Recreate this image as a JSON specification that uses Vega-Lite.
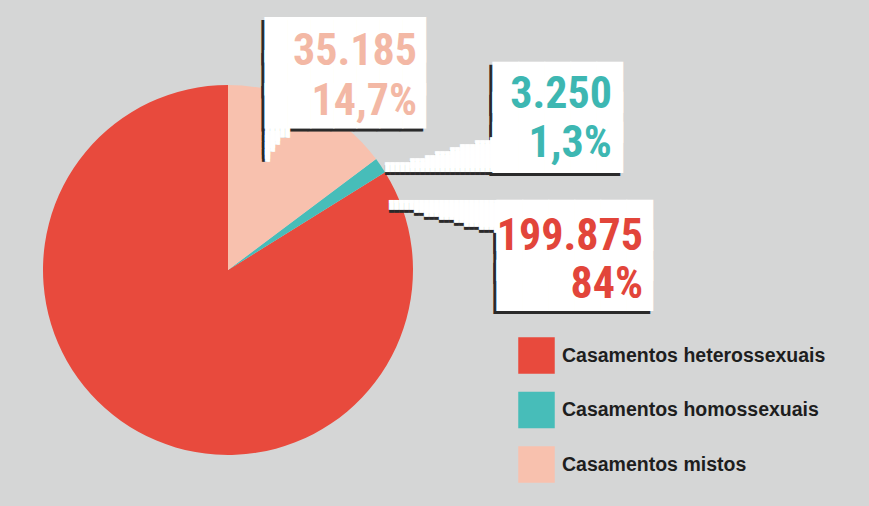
{
  "$schema": "https://vega.github.io/schema/vega-lite/v6.json",
  "width": 370,
  "height": 370,
  "autosize": {"type": "none"},
  "padding": {"left": 43, "top": 85, "right": 456, "bottom": 51},
  "background": "#d5d6d6",
  "config": {"view": {"stroke": null}},
  "data": {
    "values": [
      {"category": "Casamentos heterossexuais", "value": 199875, "numero": "199.875", "pct": "84%"},
      {"category": "Casamentos homossexuais", "value": 3250, "numero": "3.250", "pct": "1,3%"},
      {"category": "Casamentos mistos", "value": 35185, "numero": "35.185", "pct": "14,7%"}
    ]
  },
  "transform": [
    {"stack": "value", "groupby": [], "sort": [{"field": "category", "order": "descending"}], "as": ["v0", "v1"]}
  ],
  "layer": [
    {
      "mark": {"type": "arc", "strokeWidth": 0},
      "encoding": {
        "theta": {"field": "v1", "type": "quantitative", "stack": null, "scale": {"nice": false, "zero": true}},
        "theta2": {"field": "v0"},
        "color": {
          "field": "category", "type": "nominal",
          "scale": {"domain": ["Casamentos heterossexuais", "Casamentos homossexuais", "Casamentos mistos"], "range": ["#e84a3d", "#47bdb9", "#f8c1ae"]},
          "legend": {
            "title": null, "orient": "none", "legendX": 475, "legendY": 252,
            "padding": 0, "symbolType": "square", "symbolSize": 1332, "symbolStrokeWidth": 0,
            "symbolOpacity": 1, "rowPadding": 17.5, "labelOffset": 7,
            "labelFont": "Liberation Sans", "labelFontWeight": "bold", "labelFontSize": 19.5, "labelColor": "#1e1e1e", "labelLimit": 400
          }
        }
      }
    },
    {
      "transform": [{"filter": "datum.category === 'Casamentos mistos'"}],
      "mark": {"type": "text", "radius": 185, "font": "DejaVu Sans Mono", "fontSize": 38.203, "lineHeight": 32.77, "align": "left", "baseline": "alphabetic", "dx": 34, "dy": -28.55, "color": "#2a2a2a"},
      "encoding": {"theta": {"field": "v0", "type": "quantitative"}, "text": {"value": ["███████", "███████", "███████"]}}
    },
    {
      "transform": [{"filter": "datum.category === 'Casamentos mistos'"}],
      "mark": {"type": "text", "radius": 185, "font": "DejaVu Sans Mono", "fontSize": 8.305, "lineHeight": 3.476, "angle": 180, "align": "right", "baseline": "alphabetic", "dx": -34, "dy": -69.29, "color": "#2a2a2a"},
      "encoding": {"theta": {"field": "v0", "type": "quantitative"}, "text": {"value": ["█", "█", "█", "██", "██", "███", "███", "█████"]}}
    },
    {
      "transform": [{"filter": "datum.category === 'Casamentos homossexuais'"}],
      "mark": {"type": "text", "radius": 185, "font": "DejaVu Sans Mono", "fontSize": 43.186, "lineHeight": 29.87, "align": "left", "baseline": "alphabetic", "dx": 113.9, "dy": -54.06, "color": "#2a2a2a"},
      "encoding": {"theta": {"field": "v0", "type": "quantitative"}, "text": {"value": ["█████", "█████", "█████"]}}
    },
    {
      "transform": [{"filter": "datum.category === 'Casamentos homossexuais'"}],
      "mark": {"type": "text", "radius": 185, "font": "DejaVu Sans Mono", "fontSize": 8.305, "lineHeight": 3.619, "align": "right", "baseline": "alphabetic", "dx": 118.9, "dy": -11.43, "color": "#2a2a2a"},
      "encoding": {"theta": {"field": "v0", "type": "quantitative"}, "text": {"value": ["█", "████", "███████", "█████████", "████████████", "██████████████", "█████████████████", "██████████████████████"]}}
    },
    {
      "transform": [{"filter": "datum.category === 'Casamentos heterossexuais'"}],
      "mark": {"type": "text", "radius": 185, "font": "DejaVu Sans Mono", "fontSize": 43.186, "lineHeight": 29.87, "align": "left", "baseline": "alphabetic", "dx": 109, "dy": 70.92, "color": "#2a2a2a"},
      "encoding": {"theta": {"field": "v0", "type": "quantitative"}, "text": {"value": ["██████", "██████", "██████"]}}
    },
    {
      "transform": [{"filter": "datum.category === 'Casamentos heterossexuais'"}],
      "mark": {"type": "text", "radius": 185, "font": "DejaVu Sans Mono", "fontSize": 8.305, "lineHeight": 3.333, "angle": 180, "align": "left", "baseline": "alphabetic", "dx": -114, "dy": -56.13, "color": "#2a2a2a"},
      "encoding": {"theta": {"field": "v0", "type": "quantitative"}, "text": {"value": ["█", "████", "███████", "█████████", "████████████", "███████████████", "█████████████████", "██████████████████████"]}}
    },
    {
      "transform": [{"filter": "datum.category === 'Casamentos mistos'"}],
      "mark": {"type": "text", "radius": 185, "font": "DejaVu Sans Mono", "fontSize": 38.203, "lineHeight": 32.77, "align": "left", "baseline": "alphabetic", "dx": 37, "dy": -31.55, "color": "#ffffff"},
      "encoding": {"theta": {"field": "v0", "type": "quantitative"}, "text": {"value": ["███████", "███████", "███████"]}}
    },
    {
      "transform": [{"filter": "datum.category === 'Casamentos mistos'"}],
      "mark": {"type": "text", "radius": 185, "font": "DejaVu Sans Mono", "fontSize": 8.305, "lineHeight": 3.476, "angle": 180, "align": "right", "baseline": "alphabetic", "dx": -37, "dy": -69.29, "color": "#ffffff"},
      "encoding": {"theta": {"field": "v0", "type": "quantitative"}, "text": {"value": ["█", "█", "█", "██", "██", "███", "███", "█████"]}}
    },
    {
      "transform": [{"filter": "datum.category === 'Casamentos homossexuais'"}],
      "mark": {"type": "text", "radius": 185, "font": "DejaVu Sans Mono", "fontSize": 43.186, "lineHeight": 29.87, "align": "left", "baseline": "alphabetic", "dx": 116.9, "dy": -57.06, "color": "#ffffff"},
      "encoding": {"theta": {"field": "v0", "type": "quantitative"}, "text": {"value": ["█████", "█████", "█████"]}}
    },
    {
      "transform": [{"filter": "datum.category === 'Casamentos homossexuais'"}],
      "mark": {"type": "text", "radius": 185, "font": "DejaVu Sans Mono", "fontSize": 8.305, "lineHeight": 3.619, "align": "right", "baseline": "alphabetic", "dx": 118.9, "dy": -14.43, "color": "#ffffff"},
      "encoding": {"theta": {"field": "v0", "type": "quantitative"}, "text": {"value": ["█", "████", "███████", "█████████", "████████████", "██████████████", "█████████████████", "██████████████████████"]}}
    },
    {
      "transform": [{"filter": "datum.category === 'Casamentos heterossexuais'"}],
      "mark": {"type": "text", "radius": 185, "font": "DejaVu Sans Mono", "fontSize": 43.186, "lineHeight": 29.87, "align": "left", "baseline": "alphabetic", "dx": 112, "dy": 67.92, "color": "#ffffff"},
      "encoding": {"theta": {"field": "v0", "type": "quantitative"}, "text": {"value": ["██████", "██████", "██████"]}}
    },
    {
      "transform": [{"filter": "datum.category === 'Casamentos heterossexuais'"}],
      "mark": {"type": "text", "radius": 185, "font": "DejaVu Sans Mono", "fontSize": 8.305, "lineHeight": 3.333, "angle": 180, "align": "left", "baseline": "alphabetic", "dx": -114, "dy": -53.13, "color": "#ffffff"},
      "encoding": {"theta": {"field": "v0", "type": "quantitative"}, "text": {"value": ["█", "████", "███████", "█████████", "████████████", "███████████████", "█████████████████", "██████████████████████"]}}
    },
    {
      "transform": [{"filter": "datum.category === 'Casamentos mistos'"}],
      "mark": {"type": "text", "radius": 185, "font": "Roboto Condensed, DejaVu Sans Condensed, Roboto", "fontWeight": "bold", "fontSize": 44, "align": "right", "baseline": "alphabetic", "dx": 189, "dy": -20, "color": "#f3b8a5"},
      "encoding": {"theta": {"field": "v0", "type": "quantitative"}, "text": {"field": "numero"}}
    },
    {
      "transform": [{"filter": "datum.category === 'Casamentos mistos'"}],
      "mark": {"type": "text", "radius": 185, "font": "Roboto Condensed, DejaVu Sans Condensed, Roboto", "fontWeight": "bold", "fontSize": 44, "align": "right", "baseline": "alphabetic", "dx": 189, "dy": 30, "color": "#f3b8a5"},
      "encoding": {"theta": {"field": "v0", "type": "quantitative"}, "text": {"field": "pct"}}
    },
    {
      "transform": [{"filter": "datum.category === 'Casamentos homossexuais'"}],
      "mark": {"type": "text", "radius": 185, "font": "Roboto Condensed, DejaVu Sans Condensed, Roboto", "fontWeight": "bold", "fontSize": 44, "align": "right", "baseline": "alphabetic", "dx": 235.9, "dy": -51.1, "color": "#3db7b2"},
      "encoding": {"theta": {"field": "v0", "type": "quantitative"}, "text": {"field": "numero"}}
    },
    {
      "transform": [{"filter": "datum.category === 'Casamentos homossexuais'"}],
      "mark": {"type": "text", "radius": 185, "font": "Roboto Condensed, DejaVu Sans Condensed, Roboto", "fontWeight": "bold", "fontSize": 44, "align": "right", "baseline": "alphabetic", "dx": 235.9, "dy": -2.1, "color": "#3db7b2"},
      "encoding": {"theta": {"field": "v0", "type": "quantitative"}, "text": {"field": "pct"}}
    },
    {
      "transform": [{"filter": "datum.category === 'Casamentos heterossexuais'"}],
      "mark": {"type": "text", "radius": 185, "font": "Roboto Condensed, DejaVu Sans Condensed, Roboto", "fontWeight": "bold", "fontSize": 44, "align": "right", "baseline": "alphabetic", "dx": 258, "dy": 77.9, "color": "#e2453a"},
      "encoding": {"theta": {"field": "v0", "type": "quantitative"}, "text": {"field": "numero"}}
    },
    {
      "transform": [{"filter": "datum.category === 'Casamentos heterossexuais'"}],
      "mark": {"type": "text", "radius": 185, "font": "Roboto Condensed, DejaVu Sans Condensed, Roboto", "fontWeight": "bold", "fontSize": 44, "align": "right", "baseline": "alphabetic", "dx": 258, "dy": 125.9, "color": "#e2453a"},
      "encoding": {"theta": {"field": "v0", "type": "quantitative"}, "text": {"field": "pct"}}
    }
  ]
}
